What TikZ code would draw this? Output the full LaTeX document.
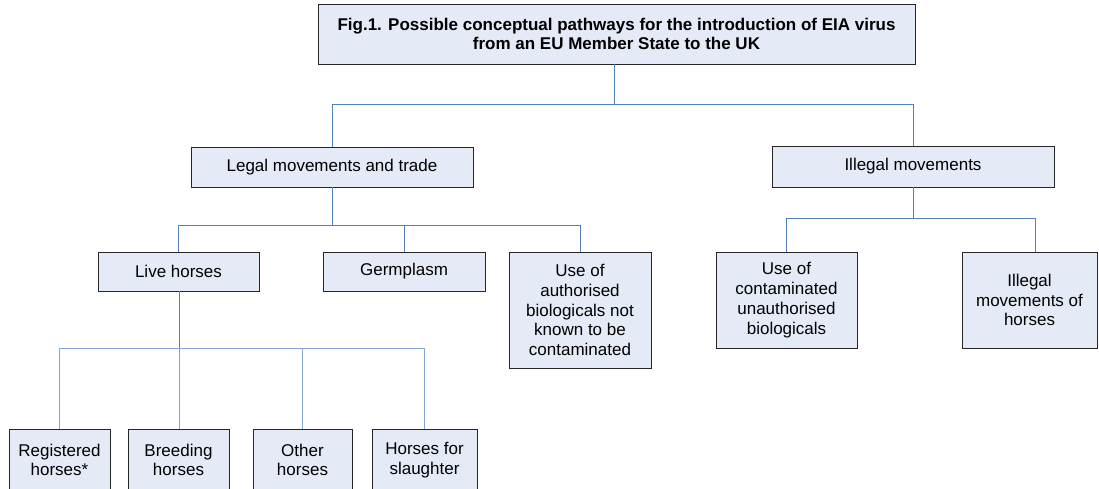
\documentclass[tikz,border=0pt]{standalone}
\usepackage{fontspec}
\setmainfont{Liberation Sans}
\usetikzlibrary{shadows}
\definecolor{boxfill}{RGB}{229,235,246}
\definecolor{conn}{RGB}{79,129,189}
\definecolor{connlight}{RGB}{130,165,210}
\tikzset{
  box/.style={draw=black!85, line width=0.9pt, fill=boxfill, align=center,
    inner sep=0pt, font=\fontsize{17}{19.8}\selectfont,
    drop shadow={shadow xshift=0.6pt, shadow yshift=-1.4pt, fill=black!45, opacity=1}},
  link/.style={draw=conn, line width=0.9pt},
  lightlink/.style={draw=connlight, line width=0.9pt},
}
\begin{document}
\begin{tikzpicture}[x=1pt,y=1pt]
\useasboundingbox (0,0) rectangle (1099,-488);
\clip (0,0) rectangle (1099,-488);
% boxes
\node[box, minimum width=597pt, minimum height=60pt, font=\bfseries\fontsize{17}{19.5}\selectfont] (title) at (616.5,-34)
  {Fig.1. Possible conceptual pathways for the introduction of EIA virus\\from an EU Member State to the UK};
\node[box, minimum width=282pt, minimum height=40pt] (legal) at (332,-167) {Legal movements and trade};
\node[box, minimum width=282pt, minimum height=41pt] (illegal) at (913,-166.5) {Illegal movements};
\node[box, minimum width=161pt, minimum height=39pt] (live) at (178.5,-271.5) {Live horses};
\node[box, minimum width=162pt, minimum height=39pt] (germ) at (404,-271.5) {Germplasm};
\node[box, minimum width=142pt, minimum height=116pt] (useof) at (580,-310)
  {Use of\\authorised\\biologicals not\\known to be\\contaminated};
\node[box, minimum width=141pt, minimum height=96pt] (contam) at (786.5,-300)
  {Use of\\contaminated\\unauthorised\\biologicals};
\node[box, minimum width=135pt, minimum height=96pt] (illh) at (1029.5,-300)
  {Illegal\\movements of\\horses};
\node[box, minimum width=101pt, minimum height=62pt] (reg) at (59.5,-460) {Registered\\horses*};
\node[box, minimum width=101pt, minimum height=62pt] (breed) at (178.5,-460) {Breeding\\horses};
\node[box, minimum width=99pt, minimum height=62pt] (other) at (302.5,-460) {Other\\horses};
\node[box, minimum width=105pt, minimum height=62pt] (slaughter) at (424.5,-460) {Horses for\\slaughter};
% junctions
\coordinate (j0) at (614.5,-104);
\coordinate (j1) at (332,-225);
\coordinate (j2) at (913,-218);
\coordinate (j3) at (179,-348);
\coordinate (illhtop) at ([xshift=5.5pt]illh.north);
% connectors
\draw[link] (title.south -| j0) -- (j0) -| (legal.north);
\draw[link] (j0) -| (illegal.north);
\draw[link] (legal.south) -- (j1) -| (live.north);
\draw[link] (j1) -| (germ.north);
\draw[link] (j1) -| (useof.north);
\draw[link] (illegal.south) -- (j2) -| (contam.north);
\draw[link] (j2) -| (illhtop);
\draw[lightlink] (j3) -| (reg.north);
\draw[lightlink] (j3) -- (breed.north -| j3);
\draw[lightlink] (j3) -| (other.north);
\draw[lightlink] (j3) -| (slaughter.north);
\draw[link] (live.south -| j3) -- (j3);
\end{tikzpicture}
\end{document}
